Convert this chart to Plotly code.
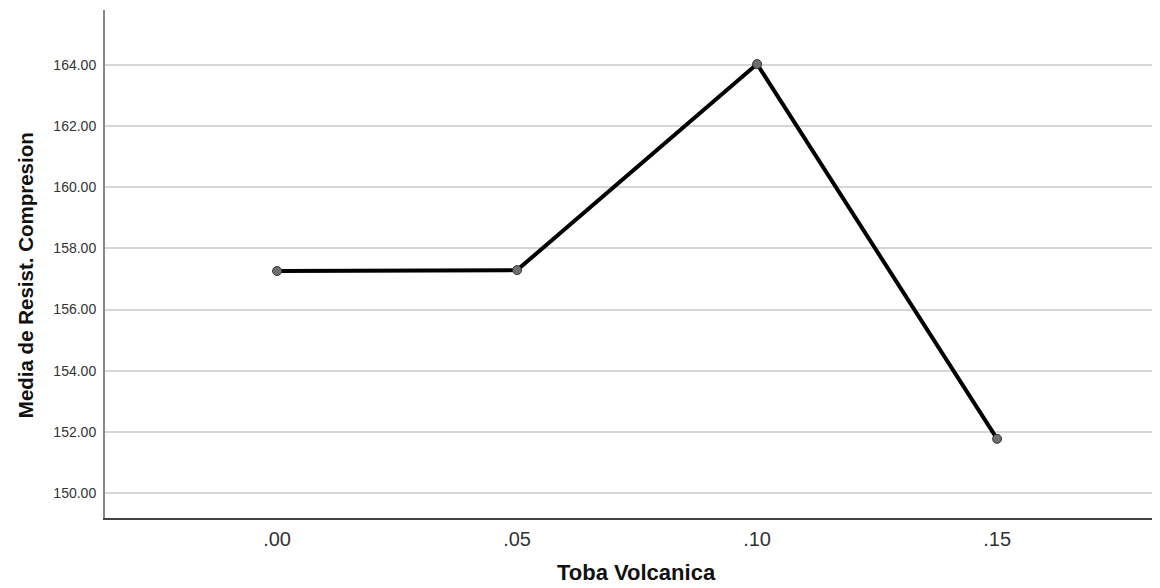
import plotly.graph_objects as go

categories = [".00", ".05", ".10", ".15"]
means = [157.26, 157.29, 164.03, 151.77]
y_ticks = [150, 152, 154, 156, 158, 160, 162, 164]
y_tick_labels = ["150.00", "152.00", "154.00", "156.00", "158.00", "160.00", "162.00", "164.00"]
x_title = "Toba Volcanica"
y_title = "Media de Resist. Compresion"

xpos = list(range(len(categories)))

fig = go.Figure()
fig.add_trace(go.Scatter(
    x=xpos, y=means, mode="lines+markers",
    line=dict(color="#000000", width=4),
    marker=dict(size=9, color="#6e6e6e", line=dict(color="#333333", width=1)),
    showlegend=False,
))

# page body has an 8px default margin, so the margins are offset accordingly
fig.update_layout(
    width=1160, height=588,
    margin=dict(l=97, r=0, t=2, b=78),
    paper_bgcolor="white", plot_bgcolor="white",
    font=dict(family="Liberation Sans, Arial, sans-serif", color="#222222"),
    xaxis=dict(
        range=[-0.717, 3.712],
        tickmode="array", tickvals=xpos, ticktext=categories,
        showgrid=False, zeroline=False,
        showline=True, linecolor="#444444", linewidth=1.5,
        ticks="", ticklabelstandoff=2,
        tickfont=dict(size=20, color="#333333"),
    ),
    yaxis=dict(
        range=[149.18, 165.8],
        tickmode="array", tickvals=y_ticks, ticktext=y_tick_labels,
        showgrid=True, gridcolor="#d6d6d6", gridwidth=1.5, zeroline=False,
        showline=True, linecolor="#888888", linewidth=2,
        ticks="", ticklabelstandoff=4,
        tickfont=dict(size=14, color="#333333"),
    ),
    annotations=[
        dict(text="<b>" + x_title + "</b>", xref="paper", yref="paper", x=0.5, y=0,
             xanchor="center", yanchor="middle", yshift=-54, showarrow=False,
             font=dict(size=22, color="#111111")),
        dict(text="<b>" + y_title + "</b>", xref="paper", yref="paper", x=0, y=0.478,
             xanchor="center", yanchor="middle", xshift=-80, textangle=-90, showarrow=False,
             font=dict(size=20.5, color="#111111")),
    ],
)

fig.write_html("out.html")
